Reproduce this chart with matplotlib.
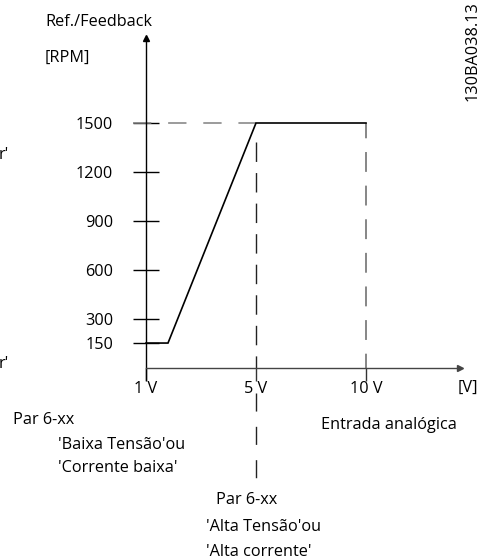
import matplotlib
matplotlib.use('Agg')
import matplotlib.pyplot as plt

plt.rcParams['font.family'] = ['Open Sans', 'DejaVu Sans']

# schematic x positions (1 V, 5 V, 10 V) and RPM scale
x_pos = [1, 5, 9]
x_labels = ['1 V', '5 V', '10 V']
y_ticks = [150, 300, 600, 900, 1200, 1500]
curve_x = [1, 1.8, 5, 9]
curve_y = [150, 150, 1500, 1500]

W, H = 480, 560
fig = plt.figure(figsize=(W / 100, H / 100), dpi=100)
ax = fig.add_axes([0, 0, 1, 1])

# pixel mapping: x=1 -> 146px, 27.5 px/unit ; y=0 -> 367.5px from top, 0.163 px/RPM
xs, ys = 27.5, 0.163
ax.set_xlim(1 - 146 / xs, 1 + (W - 146) / xs)
ax.set_ylim(-(H - 367.5) / ys, 367.5 / ys)

def fx(px):
    return px / W

def fy(py):
    return 1 - py / H

fs = 11.7

for s in ['top', 'right']:
    ax.spines[s].set_visible(False)
ax.spines['left'].set_position(('data', 1))
ax.spines['left'].set_bounds(-77, 2021)
ax.spines['left'].set_linewidth(1.0)
ax.spines['bottom'].set_position(('data', 0))
ax.spines['bottom'].set_bounds(1, 12.4)
ax.spines['bottom'].set_color('#444444')
ax.spines['bottom'].set_linewidth(1.0)

ax.plot([1], [2021], marker='^', ms=4, color='black', clip_on=False)
ax.plot([12.4], [0], marker='>', ms=4, color='#444444', clip_on=False)

ax.set_yticks(y_ticks)
ax.set_yticklabels([str(v) for v in y_ticks])
ax.tick_params(axis='y', direction='inout', length=19.4, width=1.0, pad=14,
               labelsize=fs, color='black')
ax.set_xticks(x_pos)
ax.set_xticklabels(x_labels)
ax.tick_params(axis='x', direction='out', length=9, width=1.0, pad=1,
               labelsize=fs, color='#333333')

# reference lines
ax.plot([1 - 13 / xs, 5], [1500, 1500], color='#808080', lw=1.1,
        linestyle=(0, (12, 11)))
ax.plot([5, 5], [1500 - 19 / ys, 0], color='#222222', lw=1.0,
        linestyle=(0, (14, 8)))
ax.plot([9, 9], [1500, 0], color='#666666', lw=1.1,
        linestyle=(3, (13, 9)))
ax.plot([5, 5], [-(393 - 367.5) / ys, -(481 - 367.5) / ys], color='#222222',
        lw=1.0, linestyle=(0, (13, 11)))

ax.plot(curve_x, curve_y, color='black', lw=1.2, solid_joinstyle='miter')

fig.text(fx(45), fy(22), 'Ref./Feedback', fontsize=fs, va='center')
fig.text(fx(45), fy(58), '[RPM]', fontsize=fs, va='center')
fig.text(fx(468), fy(388), '[V]', fontsize=fs, va='center', ha='center')
fig.text(fx(13), fy(420), 'Par 6-xx', fontsize=fs, va='center')
fig.text(fx(58), fy(445), "'Baixa Tensão'ou", fontsize=fs, va='center')
fig.text(fx(58), fy(468), "'Corrente baixa'", fontsize=fs, va='center')
fig.text(fx(321), fy(425), 'Entrada analógica', fontsize=fs, va='center')
fig.text(fx(216), fy(500), 'Par 6-xx', fontsize=fs, va='center')
fig.text(fx(206), fy(527), "'Alta Tensão'ou", fontsize=fs, va='center')
fig.text(fx(206), fy(552), "'Alta corrente'", fontsize=fs, va='center')
fig.text(fx(473), fy(51), '130BA038.13', fontsize=fs, va='center', ha='center',
         rotation=90)
# fragments of labels cut off at the left edge in the original drawing
fig.text(fx(9), fy(155), "r'", fontsize=fs, va='center', ha='right')
fig.text(fx(9), fy(364), "r'", fontsize=fs, va='center', ha='right')

fig.savefig('out.png', dpi=100)
